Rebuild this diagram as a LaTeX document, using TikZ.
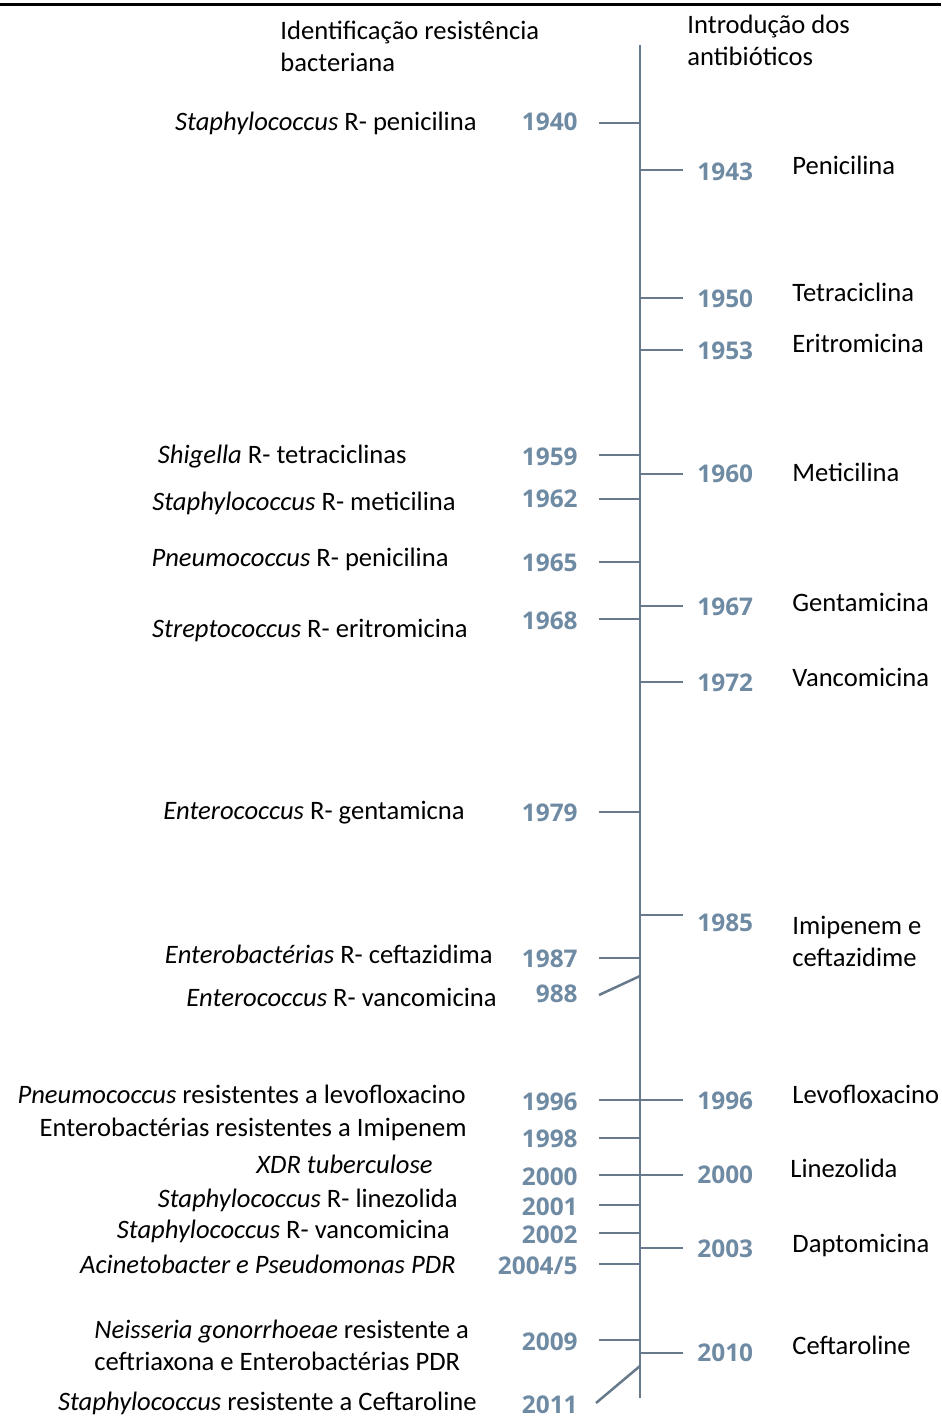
\documentclass[tikz,border=0pt]{standalone}
\usepackage{fontspec}
\setmainfont{Carlito}
\newfontfamily\yearfont{Open Sans}
\usepackage{tikz}
\definecolor{axisgray}{HTML}{667A8C}
\definecolor{yearblue}{HTML}{6F8AA3}

\begin{document}
\begin{tikzpicture}[
  x=0.5pt, y=-0.5pt,
  label/.style={inner sep=0pt, font=\fontsize{13.3}{16}\selectfont},
  yearlabel/.style={inner sep=0pt, text=yearblue, font=\yearfont\bfseries\fontsize{12.2}{15}\selectfont},
  tick/.style={draw=axisgray, line width=1.25pt}
]
  \useasboundingbox (0,0) rectangle (941,1416);

  % Top rule
  \coordinate (rl) at (0,5);
  \coordinate (rr) at (941,5);
  \draw[line width=1.5pt] (rl) -- (rr);

  % Headings
  \node[label, anchor=base west, align=left] (hres) at (280,72) {Identificação resistência\\bacteriana};
  \node[label, anchor=base west, align=left] (hant) at (687,66) {Introdução dos\\antibióticos};

  % Time axis
  \coordinate (axtop) at (640,45);
  \coordinate (axbot) at (640,1398);
  \draw[tick] (axtop) -- (axbot);

  % Left side: resistance
  \node[label, anchor=base east] (s1940) at (477,131) {\textit{Staphylococcus} R- penicilina};
  \node[yearlabel, anchor=base east] (y1940) at (578,131) {1940};
  \coordinate (k1940) at (640,123);
  \draw[tick] (k1940) -- ([xshift=-20.5pt]k1940);

  \node[label, anchor=base east] (s1959) at (407,464) {\textit{Shigella} R- tetraciclinas};
  \node[yearlabel, anchor=base east] (y1959) at (578,466) {1959};
  \coordinate (k1959) at (640,455);
  \draw[tick] (k1959) -- ([xshift=-20.5pt]k1959);

  \node[label, anchor=base east] (s1962) at (456,510) {\textit{Staphylococcus} R- meticilina};
  \node[yearlabel, anchor=base east] (y1962) at (578,508) {1962};
  \coordinate (k1962) at (640,499);
  \draw[tick] (k1962) -- ([xshift=-20.5pt]k1962);

  \node[label, anchor=base east] (s1965) at (449,566) {\textit{Pneumococcus} R- penicilina};
  \node[yearlabel, anchor=base east] (y1965) at (578,571) {1965};
  \coordinate (k1965) at (640,562);
  \draw[tick] (k1965) -- ([xshift=-20.5pt]k1965);

  \node[label, anchor=base east] (s1968) at (468,637) {\textit{Streptococcus} R- eritromicina};
  \node[yearlabel, anchor=base east] (y1968) at (578,629) {1968};
  \coordinate (k1968) at (640,619);
  \draw[tick] (k1968) -- ([xshift=-20.5pt]k1968);

  \node[label, anchor=base east] (s1979) at (465,819) {\textit{Enterococcus} R- gentamicna};
  \node[yearlabel, anchor=base east] (y1979) at (578,821) {1979};
  \coordinate (k1979) at (640,812);
  \draw[tick] (k1979) -- ([xshift=-20.5pt]k1979);

  \node[label, anchor=base east] (s1987) at (493,963) {\textit{Enterobactérias} R- ceftazidima};
  \node[yearlabel, anchor=base east] (y1987) at (578,967) {1987};
  \coordinate (k1987) at (640,958);
  \draw[tick] (k1987) -- ([xshift=-20.5pt]k1987);

  \node[label, anchor=base east] (s1988) at (497,1006) {\textit{Enterococcus} R- vancomicina};
  \node[yearlabel, anchor=base east] (y1988) at (578,1002) {988};
  \coordinate (k1988) at (640,976);
  \draw[tick] (k1988) -- ([shift={(-20.5pt,-9.5pt)}]k1988);

  \node[label, anchor=base east] (s1996) at (466,1103) {\textit{Pneumococcus} resistentes a levofloxacino};
  \node[yearlabel, anchor=base east] (y1996) at (578,1110) {1996};
  \coordinate (k1996) at (640,1100);
  \draw[tick] (k1996) -- ([xshift=-20.5pt]k1996);

  \node[label, anchor=base east] (s1998) at (467,1136) {Enterobactérias resistentes a Imipenem};
  \node[yearlabel, anchor=base east] (y1998) at (578,1147) {1998};
  \coordinate (k1998) at (640,1138);
  \draw[tick] (k1998) -- ([xshift=-20.5pt]k1998);

  \node[label, anchor=base east] (s2000) at (433,1173) {\textit{XDR tuberculose}};
  \node[yearlabel, anchor=base east] (y2000) at (578,1185) {2000};
  \coordinate (k2000) at (640,1175);
  \draw[tick] (k2000) -- ([xshift=-20.5pt]k2000);

  \node[label, anchor=base east] (s2001) at (458,1207) {\textit{Staphylococcus} R- linezolida};
  \node[yearlabel, anchor=base east] (y2001) at (578,1215) {2001};
  \coordinate (k2001) at (640,1205);
  \draw[tick] (k2001) -- ([xshift=-20.5pt]k2001);

  \node[label, anchor=base east] (s2002) at (450,1238) {\textit{Staphylococcus} R- vancomicina};
  \node[yearlabel, anchor=base east] (y2002) at (578,1243) {2002};
  \coordinate (k2002) at (640,1233);
  \draw[tick] (k2002) -- ([xshift=-20.5pt]k2002);

  \node[label, anchor=base east] (s2004) at (456,1273) {\textit{Acinetobacter e Pseudomonas PDR}};
  \node[yearlabel, anchor=base east] (y2004) at (578,1274) {2004/5};
  \coordinate (k2004) at (640,1264);
  \draw[tick] (k2004) -- ([xshift=-20.5pt]k2004);

  \node[label, anchor=base west, align=left] (s2009) at (94,1370) {\textit{Neisseria gonorrhoeae} resistente a\\ceftriaxona e Enterobactérias PDR};
  \node[yearlabel, anchor=base east] (y2009) at (578,1350) {2009};
  \coordinate (k2009) at (640,1340);
  \draw[tick] (k2009) -- ([xshift=-20.5pt]k2009);

  \node[label, anchor=base east] (s2011) at (477,1410) {\textit{Staphylococcus} resistente a Ceftaroline};
  \node[yearlabel, anchor=base east] (y2011) at (578,1413) {2011};
  \coordinate (k2011) at (640,1366);
  \draw[tick] (k2011) -- ([shift={(-22pt,-18.5pt)}]k2011);

  % Right side: antibiotics
  \node[yearlabel, anchor=base west] (y1943) at (697,181) {1943};
  \node[label, anchor=base west] (a1943) at (792,175) {Penicilina};
  \coordinate (k1943) at (640,170);
  \draw[tick] (k1943) -- ([xshift=21.5pt]k1943);

  \node[yearlabel, anchor=base west] (y1950) at (697,308) {1950};
  \node[label, anchor=base west] (a1950) at (792,302) {Tetraciclina};
  \coordinate (k1950) at (640,298);
  \draw[tick] (k1950) -- ([xshift=21.5pt]k1950);

  \node[yearlabel, anchor=base west] (y1953) at (697,360) {1953};
  \node[label, anchor=base west] (a1953) at (792,353) {Eritromicina};
  \coordinate (k1953) at (640,350);
  \draw[tick] (k1953) -- ([xshift=21.5pt]k1953);

  \node[yearlabel, anchor=base west] (y1960) at (697,483) {1960};
  \node[label, anchor=base west] (a1960) at (792,481) {Meticilina};
  \coordinate (k1960) at (640,474);
  \draw[tick] (k1960) -- ([xshift=21.5pt]k1960);

  \node[yearlabel, anchor=base west] (y1967) at (697,615) {1967};
  \node[label, anchor=base west] (a1967) at (792,611) {Gentamicina};
  \coordinate (k1967) at (640,606);
  \draw[tick] (k1967) -- ([xshift=21.5pt]k1967);

  \node[yearlabel, anchor=base west] (y1972) at (697,691) {1972};
  \node[label, anchor=base west] (a1972) at (792,686) {Vancomicina};
  \coordinate (k1972) at (640,682);
  \draw[tick] (k1972) -- ([xshift=21.5pt]k1972);

  \node[yearlabel, anchor=base west] (y1985) at (697,931) {1985};
  \node[label, anchor=base west, align=left] (a1985) at (792,966) {Imipenem e\\ceftazidime};
  \coordinate (k1985) at (640,915);
  \draw[tick] (k1985) -- ([xshift=21.5pt]k1985);

  \node[yearlabel, anchor=base west] (y1996r) at (697,1109) {1996};
  \node[label, anchor=base west] (a1996) at (792,1103) {Levofloxacino};
  \coordinate (k1996r) at (640,1100);
  \draw[tick] (k1996r) -- ([xshift=21.5pt]k1996r);

  \node[yearlabel, anchor=base west] (y2000r) at (697,1183) {2000};
  \node[label, anchor=base west] (a2000) at (790,1177) {Linezolida};
  \coordinate (k2000r) at (640,1175);
  \draw[tick] (k2000r) -- ([xshift=21.5pt]k2000r);

  \node[yearlabel, anchor=base west] (y2003) at (697,1257) {2003};
  \node[label, anchor=base west] (a2003) at (792,1252) {Daptomicina};
  \coordinate (k2003) at (640,1248);
  \draw[tick] (k2003) -- ([xshift=21.5pt]k2003);

  \node[yearlabel, anchor=base west] (y2010) at (697,1361) {2010};
  \node[label, anchor=base west] (a2010) at (792,1354) {Ceftaroline};
  \coordinate (k2010) at (640,1353);
  \draw[tick] (k2010) -- ([xshift=21.5pt]k2010);
\end{tikzpicture}
\end{document}
